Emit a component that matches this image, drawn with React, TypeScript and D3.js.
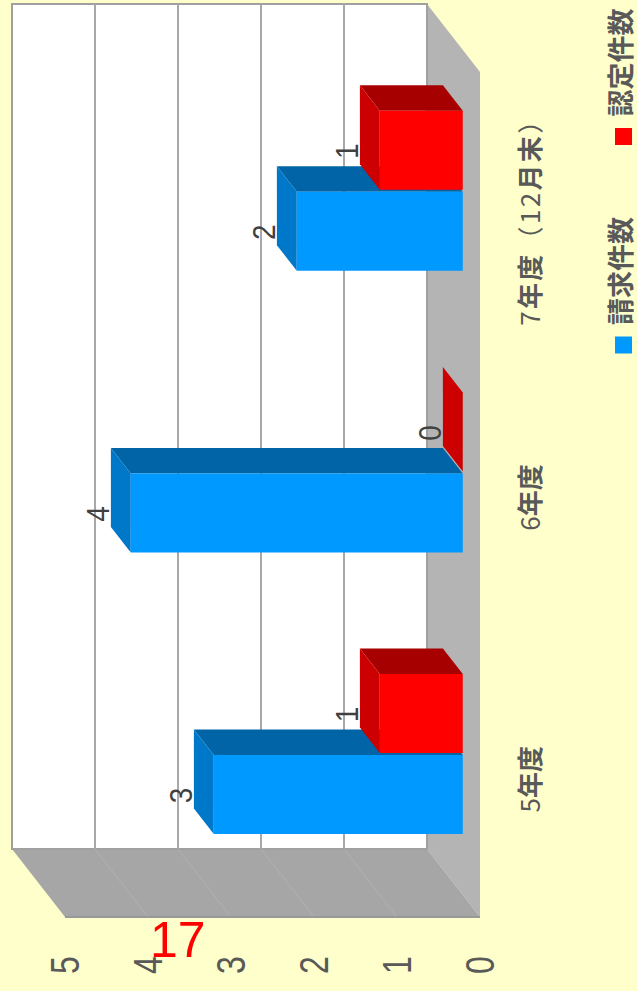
import React from 'react';
import * as d3 from 'd3';

const categories = ['5年度', '6年度', '7年度（12月末）'];
const seriesNames = ['請求件数', '認定件数'];
const claimValues = [3, 4, 2];
const certifiedValues = [1, 0, 1];
const valueTicks = [0, 1, 2, 3, 4, 5];
const strayLabel = '17';

const W = 637;
const H = 991;
const DX = 53;
const DY = 68;
const T1 = 0.3;
const T2 = 0.675;

const seriesColors = [
  { front: '#0099FF', strip: '#0064A6', end: '#0078CA' },
  { front: '#FF0000', strip: '#A60000', end: '#CC0000' },
];

function runs(label: string) {
  const out: { t: string; bold: boolean }[] = [];
  for (const ch of label) {
    const bold = /[\u4e00-\u9fff]/.test(ch);
    const last = out[out.length - 1];
    if (last && last.bold === bold) last.t += ch;
    else out.push({ t: ch, bold });
  }
  return out;
}

export default function App() {
  const x = d3.scaleLinear().domain([0, 5]).range([427, 12]);
  const yBand = d3.scaleBand<string>().domain(categories).range([849, 4]);
  const inner = d3.scaleBand<string>().domain([seriesNames[1], seriesNames[0]]).range([-80, 80]).paddingInner(0.025);
  const wallTop = 4;
  const wallBottom = 849;
  const x0 = x(0);
  const x5 = x(5);
  const P = (px: number, py: number, t: number) => [px + DX * t, py + DY * t];
  const poly = (pts: number[][]) => pts.map((p) => p.join(',')).join(' ');

  const bars: React.ReactNode[] = [];
  const labels: React.ReactNode[] = [];
  categories.forEach((cat, i) => {
    const center = (yBand(cat) as number) + yBand.bandwidth() / 2;
    const entries = [
      { name: seriesNames[0], v: claimValues[i], c: seriesColors[0] },
      { name: seriesNames[1], v: certifiedValues[i], c: seriesColors[1] },
    ];
    entries.forEach((e, k) => {
      const ya = center + (inner(e.name) as number);
      const yb = ya + inner.bandwidth();
      const xv = x(e.v);
      const front = [P(xv, ya, T2), P(x0, ya, T2), P(x0, yb, T2), P(xv, yb, T2)];
      const strip = [P(xv, ya, T1), P(x0, ya, T1), P(x0, ya, T2), P(xv, ya, T2)];
      const end = [P(xv, ya, T1), P(xv, ya, T2), P(xv, yb, T2), P(xv, yb, T1)];
      bars.push(
        <g key={`b-${i}-${k}`}>
          <polygon points={poly(strip)} fill={e.c.strip} />
          <polygon points={poly(end)} fill={e.c.end} />
          <polygon points={poly(front)} fill={e.c.front} />
        </g>
      );
      const lx = xv + DX * T1 - 13;
      const ly = (ya + yb) / 2 + DY * T2 + 1;
      labels.push(
        <text
          key={`l-${i}-${k}`}
          transform={`translate(${lx},${ly}) scale(1.12,1) rotate(-90)`}
          textAnchor="middle"
          dominantBaseline="central"
          fontFamily="'Liberation Sans', Arial, sans-serif"
          fontSize={28}
          fill="#404040"
        >
          {e.v}
        </text>
      );
    });
  });

  return (
    <svg width={W} height={H} style={{ position: 'absolute', left: 0, top: 0, display: 'block' }}>
      <rect x={0} y={0} width={W} height={H} fill="#FFFFCC" />
      <polygon points={poly([[x0, wallTop], P(x0, wallTop, 1), P(x0, wallBottom, 1), [x0, wallBottom]])} fill="#B4B4B4" />
      <polygon points={poly([[x5, wallBottom], [x0, wallBottom], P(x0, wallBottom, 1), P(x5, wallBottom, 1)])} fill="#A6A6A6" />
      {valueTicks.slice(1, 5).map((v) => (
        <line key={`sg-${v}`} x1={x(v)} y1={wallBottom} x2={x(v) + DX} y2={wallBottom + DY} stroke="#B2B2B2" strokeWidth={1} />
      ))}
      <line x1={x5 + DX} y1={wallBottom + DY} x2={x0 + DX} y2={wallBottom + DY} stroke="#999999" strokeWidth={2} />
      <rect x={x5} y={wallTop} width={x0 - x5} height={wallBottom - wallTop} fill="#FFFFFF" stroke="#A0A0A0" strokeWidth={2} />
      {valueTicks.slice(1, 5).map((v) => (
        <line key={`g-${v}`} x1={x(v)} y1={wallTop} x2={x(v)} y2={wallBottom} stroke="#A8A8A8" strokeWidth={2} />
      ))}
      {bars}
      {labels}
      {valueTicks.map((v) => (
        <text
          key={`t-${v}`}
          transform={`translate(${x(v) + DX},965) scale(1.28,1) rotate(-90)`}
          textAnchor="middle"
          dominantBaseline="central"
          fontFamily="'Liberation Sans', Arial, sans-serif"
          fontSize={32}
          fill="#595959"
        >
          {v}
        </text>
      ))}
      {categories.map((cat) => {
        const center = (yBand(cat) as number) + yBand.bandwidth() / 2;
        const long = cat.length > 4;
        return (
          <text
            key={`c-${cat}`}
            transform={`translate(528,${center + DY + (long ? 4 : 3)}) rotate(-90)`}
            textAnchor="middle"
            dominantBaseline="central"
            fontFamily="'Noto Sans CJK JP', sans-serif"
            fontSize={26}
            fill="#595959"
            {...(long ? { textLength: 218, lengthAdjust: 'spacing' } : {})}
          >
            {runs(cat).map((r, j) => (
              <tspan key={j} fontWeight={r.bold ? 'bold' : 'normal'}>{r.t}</tspan>
            ))}
          </text>
        );
      })}
      {seriesNames.map((name, k) => {
        const sy = k === 0 ? 345 : 136.5;
        return (
          <g key={`lg-${k}`}>
            <rect x={615} y={sy - 8.5} width={17} height={17} fill={seriesColors[k].front} />
            <text
              transform={`translate(619,${sy - 20}) rotate(-90)`}
              textAnchor="start"
              dominantBaseline="central"
              fontFamily="'Noto Sans CJK JP', sans-serif"
              fontWeight="bold"
              fontSize={27}
              fill="#595959"
            >
              {name}
            </text>
          </g>
        );
      })}
      <text x={150} y={957} fontFamily="'Liberation Sans', Arial, sans-serif" fontSize={50} fill="#FF0000">
        {strayLabel}
      </text>
    </svg>
  );
}
